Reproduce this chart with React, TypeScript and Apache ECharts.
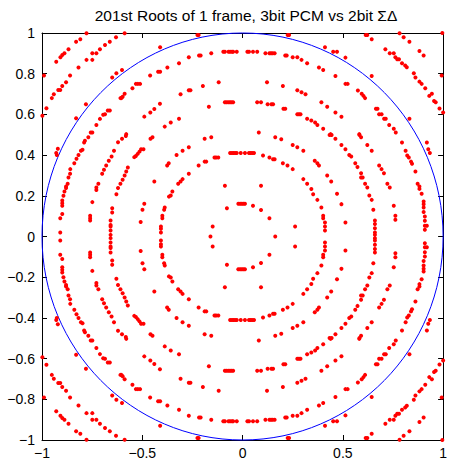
import React, { useEffect, useRef } from "react";
import * as echarts from "echarts";

const titleText = "201st Roots of 1 frame, 3bit PCM vs 2bit \u03A3\u0394";
const xTicks = [-1, -0.5, 0, 0.5, 1];
const yTicks = [-1, -0.8, -0.6, -0.4, -0.2, 0, 0.2, 0.4, 0.6, 0.8, 1];

// Roots read from the upper half of the picture (Im >= 0); roots of a real
// polynomial come in conjugate pairs, so the lower half mirrors these.
const upperLeftRoots: number[][] = [
  [-0.778,0.999],[-0.588,0.999],[-0.809,0.969],[-0.830,0.957],[-0.631,0.979],[-0.662,0.957],[-0.686,0.941],[-0.711,0.920],[-0.729,0.900],[-0.749,0.900],[-0.749,0.868],[-0.778,0.868],[-0.868,0.920],[-0.888,0.900],[-0.899,0.892],[-0.908,0.881],[-0.929,0.859],[-0.818,0.830],[-0.990,0.791],[-0.860,0.791],[-0.880,0.758],[-0.899,0.740],[-0.909,0.720],[-0.919,0.720],[-0.941,0.699],[-0.951,0.680],[-0.978,0.630],[-0.998,0.593],[-0.629,0.802],[-0.650,0.781],[-0.601,0.818],[-0.411,0.930],[-0.375,0.830],[-0.411,0.810],[-0.421,0.810],[-0.461,0.791],[-0.511,0.750],[-0.522,0.750],[-0.532,0.750],[-0.549,0.729],[-0.588,0.701],[-0.598,0.687],[-0.604,0.680],[-0.609,0.680],[-0.781,0.650],[-0.662,0.619],[-0.672,0.619],[-0.686,0.601],[-0.695,0.598],[-0.711,0.578],[-0.729,0.548],[-0.830,0.581],[-0.749,0.511],[-0.757,0.511],[-0.580,0.503],[-0.412,0.652],[-0.440,0.627],[-0.460,0.609],[-0.490,0.589],[-0.358,0.560],[-0.388,0.540],
  [-0.769,0.488],[-0.786,0.470],[-0.790,0.462],[-0.798,0.426],[-0.806,0.421],[-0.818,0.401],[-0.828,0.382],[-0.839,0.360],[-0.859,0.331],[-0.860,0.308],[-0.868,0.290],[-0.872,0.259],[-0.880,0.246],[-0.880,0.238],[-0.888,0.221],[-0.893,0.200],[-0.899,0.177],[-0.899,0.164],[-0.899,0.151],[-0.899,0.111],[-0.909,0.090],[-0.909,0.020],[-0.921,0.431],[-0.929,0.410],[-0.926,0.401],
  [-0.582,0.494],[-0.601,0.480],[-0.621,0.463],[-0.641,0.421],[-0.653,0.393],[-0.667,0.372],[-0.680,0.349],[-0.691,0.328],[-0.700,0.308],[-0.719,0.259],[-0.729,0.241],[-0.729,0.229],[-0.749,0.169],[-0.760,0.102],[-0.760,0.090],[-0.760,0.079],
  [-0.449,0.488],[-0.459,0.480],[-0.494,0.429],[-0.506,0.429],[-0.514,0.417],[-0.523,0.406],[-0.532,0.396],[-0.540,0.390],[-0.572,0.339],[-0.580,0.319],[-0.588,0.300],[-0.598,0.279],[-0.609,0.259],[-0.621,0.238],[-0.629,0.208],[-0.650,0.139],[-0.650,0.118],[-0.658,0.079],[-0.658,0.057],[-0.658,0.049],[-0.658,0.029],[-0.658,0.008],
  [-0.376,0.349],[-0.368,0.360],[-0.440,0.270],[-0.350,0.221],[-0.358,0.201],[-0.367,0.196],[-0.490,0.161],[-0.499,0.131],[-0.508,0.071],[-0.388,0.142],[-0.391,0.131],[-0.400,0.102],[-0.400,0.090],[-0.407,0.049],[-0.407,0.038],[-0.407,0.020],
];

const upperCenterRoots: number[][] = [
  [-0.225,0.990],[-0.219,0.990],[0.225,0.990],[0.232,0.990],[-0.268,0.881],[-0.217,0.889],[-0.209,0.889],[-0.156,0.900],[-0.096,0.908],[-0.088,0.908],[-0.070,0.908],[-0.062,0.908],[-0.053,0.908],[-0.047,0.908],[-0.029,0.908],[0.024,0.908],[0.032,0.908],[0.052,0.908],[0.073,0.908],[0.114,0.900],[0.134,0.900],[0.142,0.900],[0.150,0.900],[0.160,0.900],[0.213,0.889],[0.220,0.889],[0.250,0.881],[0.273,0.881],[0.294,0.868],[0.322,0.851],[-0.317,0.851],
  [-0.119,0.758],[-0.198,0.740],[-0.268,0.719],[-0.260,0.719],[-0.309,0.699],[0.122,0.758],[0.201,0.740],[0.273,0.719],[0.294,0.709],[0.314,0.699],
  [-0.088,0.660],[-0.080,0.660],[-0.071,0.660],[-0.063,0.660],[-0.055,0.660],[-0.047,0.660],[0.073,0.660],[0.092,0.660],[0.125,0.650],[0.144,0.650],[0.152,0.650],[-0.168,0.638],[0.204,0.628],[0.213,0.628],[0.273,0.601],[0.281,0.601],[0.289,0.601],[0.322,0.579],[-0.317,0.579],[0.081,0.511],
  [-0.189,0.480],[-0.156,0.488],[-0.268,0.439],[-0.299,0.421],[-0.329,0.401],[-0.181,0.368],[-0.189,0.368],[-0.140,0.388],[-0.132,0.388],[-0.121,0.388],[-0.062,0.410],[-0.053,0.410],[-0.045,0.410],[-0.037,0.410],[-0.029,0.410],[-0.009,0.410],[0.012,0.410],[0.032,0.410],[0.040,0.410],[0.048,0.410],[0.057,0.410],[0.102,0.398],[0.134,0.388],[0.152,0.380],[0.160,0.380],[0.163,0.488],[0.193,0.478],[0.250,0.450],[0.273,0.439],[0.303,0.421],
  [-0.219,0.349],[-0.268,0.308],[-0.299,0.282],[-0.309,0.270],[-0.321,0.259],[0.201,0.360],[0.224,0.349],[0.250,0.331],[0.303,0.282],[0.322,0.259],[-0.088,0.249],[0.092,0.249],
  [-0.021,0.161],[-0.012,0.161],[-0.004,0.161],[0.004,0.161],[0.012,0.161],[-0.078,0.139],[0.052,0.151],[0.092,0.130],[0.134,0.090],[-0.149,0.049],[0.262,0.049],
];

const upperRightRoots: number[][] = [
  [0.614,0.990],[0.622,0.990],[0.783,0.999],[0.803,0.979],[0.832,0.957],[0.644,0.969],[0.996,1.0],[0.411,0.930],[0.452,0.908],[0.471,0.908],[0.513,0.879],[0.712,0.920],[0.734,0.900],[0.754,0.900],[0.762,0.881],[0.771,0.871],[0.780,0.871],[0.795,0.851],[0.811,0.840],[0.819,0.832],[0.882,0.912],[0.903,0.889],[0.381,0.830],[0.402,0.818],[0.463,0.789],[0.513,0.750],[0.524,0.750],[0.644,0.789],[0.854,0.802],[0.862,0.781],[0.882,0.761],[0.893,0.750],[0.911,0.729],[0.931,0.691],[0.944,0.701],[0.955,0.666],[0.963,0.660],[0.993,0.791],[1.0,0.609],[0.982,0.629],[0.575,0.717],[0.594,0.701],[0.603,0.691],[0.611,0.680],[0.393,0.660],[0.422,0.638],[0.463,0.609],[0.493,0.588],[0.665,0.628],[0.673,0.628],[0.681,0.601],[0.693,0.601],[0.706,0.579],[0.714,0.579],[0.731,0.548],[0.754,0.529],[0.764,0.511],[0.832,0.579],[0.343,0.570],[0.362,0.560],[0.373,0.548],[0.402,0.529],[0.439,0.503],[0.582,0.503],
  [0.434,0.499],[0.444,0.499],[0.463,0.480],[0.493,0.450],[0.513,0.429],[0.532,0.401],[0.542,0.393],[0.562,0.360],[0.573,0.341],[0.591,0.311],[0.591,0.290],[0.599,0.290],[0.611,0.259],[0.622,0.241],[0.632,0.201],[0.644,0.180],[0.652,0.131],[0.660,0.079],[0.660,0.061],[0.660,0.041],[0.660,0.020],[0.660,0.008],
  [0.583,0.499],[0.591,0.488],[0.622,0.450],[0.644,0.421],[0.681,0.349],[0.693,0.331],[0.705,0.311],[0.722,0.259],[0.734,0.241],[0.754,0.151],[0.762,0.102],[0.762,0.082],
  [0.795,0.462],[0.813,0.421],[0.821,0.398],[0.829,0.388],[0.840,0.368],[0.845,0.357],[0.862,0.319],[0.873,0.259],[0.882,0.246],[0.882,0.234],[0.893,0.210],[0.903,0.172],[0.903,0.159],[0.903,0.142],[0.903,0.120],[0.909,0.098],[0.909,0.077],[0.909,0.053],[0.919,0.053],[0.909,0.033],[0.919,0.462],[0.926,0.429],[0.934,0.410],
  [0.360,0.372],[0.373,0.360],[0.381,0.349],[0.422,0.300],[0.442,0.270],[0.343,0.233],[0.352,0.208],[0.373,0.180],[0.393,0.142],[0.402,0.102],[0.402,0.090],[0.411,0.069],[0.411,0.049],[0.411,0.029],[0.471,0.210],[0.493,0.159],[0.513,0.069],
];

const realRoots: number[][] = [[-0.160, 0], [0.163, 0]];

const unitCircle: number[][] = [[0, 0, 1]];

const fontFamily = "'Liberation Sans', Arial, Helvetica, sans-serif";
const fmt = (v: number) => String(v).replace("-", "\u2212");

export default function App() {
  const ref = useRef<HTMLDivElement>(null);
  useEffect(() => {
    if (!ref.current) return;
    const chart = echarts.init(ref.current, undefined, { renderer: "svg" });
    const upper = [...upperLeftRoots, ...upperCenterRoots, ...upperRightRoots];
    const roots = [...upper, ...upper.map(([x, y]) => [x, -y]), ...realRoots];
    const axisCommon = {
      min: -1,
      max: 1,
      axisLine: { show: true, onZero: false, lineStyle: { color: "#000", width: 1 } },
      axisTick: { show: true, inside: true, length: 5, lineStyle: { color: "#000", width: 1 } },
      splitLine: { show: false },
    };
    chart.setOption({
      animation: false,
      backgroundColor: "#fff",
      textStyle: { fontFamily },
      graphic: [
        {
          type: "text",
          x: 246,
          y: 15,
          style: {
            text: titleText,
            fill: "#000",
            font: `15.5px ${fontFamily}`,
            textAlign: "center",
            textVerticalAlign: "middle",
          },
        },
      ],
      grid: { left: 42, top: 33, width: 406, height: 407, containLabel: false },
      xAxis: [
        {
          ...axisCommon,
          type: "value",
          position: "bottom",
          interval: 0.5,
          axisLabel: { show: true, color: "#000", fontSize: 14, fontFamily, margin: 6, formatter: fmt },
        },
        {
          ...axisCommon,
          type: "value",
          position: "top",
          interval: 0.5,
          axisLabel: { show: false },
        },
      ],
      yAxis: [
        {
          ...axisCommon,
          type: "value",
          position: "left",
          interval: 0.2,
          axisLabel: {
            show: true,
            color: "#000",
            fontSize: 14,
            fontFamily,
            margin: 7,
            formatter: (v: number) => fmt(Number(v.toFixed(1))),
          },
        },
        {
          ...axisCommon,
          type: "value",
          position: "right",
          interval: 0.2,
          axisLabel: { show: false },
        },
      ],
      series: [
        {
          type: "custom",
          xAxisIndex: 0,
          yAxisIndex: 0,
          data: unitCircle,
          silent: true,
          renderItem: (params: any, api: any) => {
            const r = api.value(2);
            const c = api.coord([api.value(0), api.value(1)]);
            const e = api.coord([api.value(0) + r, api.value(1) + r]);
            return {
              type: "ellipse",
              shape: { cx: c[0], cy: c[1], rx: e[0] - c[0], ry: c[1] - e[1] },
              style: { fill: "none", stroke: "#0000ff", lineWidth: 1 },
            };
          },
        },
        {
          type: "scatter",
          xAxisIndex: 0,
          yAxisIndex: 0,
          data: roots,
          symbol: "circle",
          symbolSize: 4,
          itemStyle: { color: "#ff0000", opacity: 1 },
          silent: true,
        },
      ],
    });
    return () => chart.dispose();
  }, []);
  return <div ref={ref} style={{ width: 450, height: 461, position: "absolute", left: 0, top: 0 }} />;
}
